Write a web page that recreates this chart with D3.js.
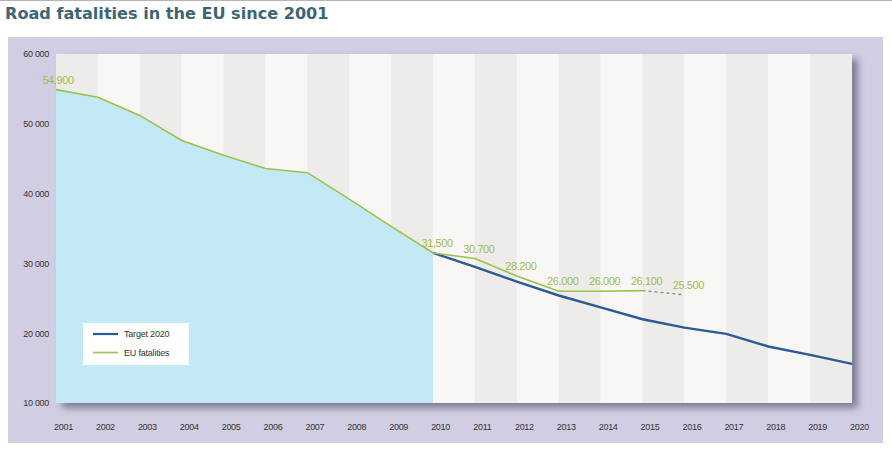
<!DOCTYPE html>
<html>
<head>
<meta charset="utf-8">
<script src="https://cdn.jsdelivr.net/npm/d3@7"></script>
<style>
  html, body { margin: 0; padding: 0; background: #ffffff; }
  svg { display: block; }
  .cond { font-family: "Liberation Sans Narrow", "Liberation Sans", Arial, sans-serif; }
</style>
</head>
<body>
<svg id="chart" width="892" height="453"></svg>
<script>
// ---- data ----
const title = "Road fatalities in the EU since 2001";
const years = [2001,2002,2003,2004,2005,2006,2007,2008,2009,2010,2011,2012,2013,2014,2015,2016,2017,2018,2019,2020];
const fatalityYears = [2001,2002,2003,2004,2005,2006,2007,2008,2009,2010,2011,2012,2013,2014,2015];
const fatalities    = [54900,53800,51200,47600,45500,43600,43000,39200,35300,31500,30700,28200,26000,26000,26100];
const estimateYears = [2015,2016];
const estimate      = [26100,25500];
const targetYears = [2010,2011,2012,2013,2014,2015,2016,2017,2018,2019,2020];
const target      = [31500,29500,27400,25400,23700,22000,20800,19900,18100,16900,15600];
const labelYears  = [2001,2010,2011,2012,2013,2014,2015,2016];
const labelValues = [54900,31500,30700,28200,26000,26000,26100,25500];
const labelTexts  = ["54,900","31,500","30.700","28.200","26.000","26.000","26.100","25.500"];
const yTicks = [10000,20000,30000,40000,50000,60000];
const yTickLabels = ["10 000","20 000","30 000","40 000","50 000","60 000"];
const legendNames = ["Target 2020","EU fatalities"];

// ---- layout ----
const svg = d3.select("#chart");
const W = 892, H = 453;
const plot = {x0: 56, x1: 852, y0: 54, y1: 403};
const x = d3.scaleLinear().domain([2001, 2020]).range([plot.x0, plot.x1]);
const y = d3.scaleLinear().domain([10000, 60000]).range([plot.y1, plot.y0]);

const colors = {
  panel: "#d1cee3", stripeA: "#edecea", stripeB: "#f9f7f6",
  area: "#c3e9f7", green: "#9cc24a", greenText: "#a3bd45",
  blue: "#2c5a98", title: "#3b6676", text: "#333333"
};

// top rule
svg.append("line").attr("x1", 0).attr("x2", W).attr("y1", 0.5).attr("y2", 0.5)
  .attr("stroke", "#b4b4b4").attr("stroke-width", 1);

// title
svg.append("text").attr("x", 5).attr("y", 19)
  .attr("font-family", "DejaVu Sans, Verdana, sans-serif").attr("font-weight", "bold")
  .attr("font-size", 16.1).attr("fill", colors.title).text(title);

// outer panel
svg.append("rect").attr("x", 8).attr("y", 37).attr("width", 875).attr("height", 406)
  .attr("fill", colors.panel);

// shadow filter
const defs = svg.append("defs");
const f = defs.append("filter").attr("id", "shadow").attr("x", "-5%").attr("y", "-5%").attr("width", "115%").attr("height", "120%");
f.append("feDropShadow").attr("dx", 6).attr("dy", 5).attr("stdDeviation", 3.5)
  .attr("flood-color", "#3a3a55").attr("flood-opacity", 0.55);

// plot background with shadow
svg.append("rect").attr("x", plot.x0).attr("y", plot.y0)
  .attr("width", plot.x1 - plot.x0).attr("height", plot.y1 - plot.y0)
  .attr("fill", colors.stripeB).attr("filter", "url(#shadow)");

// stripes
const cols = years.slice(0, -1);
svg.append("g").selectAll("rect").data(cols).join("rect")
  .attr("x", d => x(d)).attr("y", plot.y0)
  .attr("width", d => x(d + 1) - x(d)).attr("height", plot.y1 - plot.y0)
  .attr("fill", (d, i) => i % 2 === 0 ? colors.stripeA : colors.stripeB);

// area under fatalities up to 2010
const areaData = fatalityYears.map((yr, i) => ({yr, v: fatalities[i]})).filter(d => d.yr <= 2010);
svg.append("path").datum(areaData)
  .attr("d", d3.area().x(d => x(d.yr)).y0(plot.y1).y1(d => y(d.v)))
  .attr("fill", colors.area);

// target line
const line = d3.line().x(d => x(d.yr)).y(d => y(d.v));
svg.append("path").datum(targetYears.map((yr, i) => ({yr, v: target[i]})))
  .attr("d", line).attr("fill", "none").attr("stroke", colors.blue).attr("stroke-width", 2.4);

// fatalities line
svg.append("path").datum(fatalityYears.map((yr, i) => ({yr, v: fatalities[i]})))
  .attr("d", line).attr("fill", "none").attr("stroke", colors.green).attr("stroke-width", 1.6);
svg.append("path").datum(estimateYears.map((yr, i) => ({yr, v: estimate[i]})))
  .attr("d", line).attr("fill", "none").attr("stroke", "#8a9a70").attr("stroke-width", 1.4)
  .attr("stroke-dasharray", "3,3");

// data labels
svg.append("g").selectAll("text").data(labelYears).join("text")
  .attr("class", "cond")
  .attr("x", (d, i) => x(d) + (i === 0 ? 2 : 4)).attr("y", (d, i) => y(labelValues[i]) - 6)
  .attr("text-anchor", "middle").attr("font-size", 11).attr("fill", colors.greenText)
  .attr("letter-spacing", -0.4)
  .text((d, i) => labelTexts[i]);

// y axis
const yAxis = d3.axisLeft(y).tickValues(yTicks).tickSize(0).tickPadding(0)
  .tickFormat((d, i) => yTickLabels[i]);
const gy = svg.append("g").attr("transform", `translate(${plot.x0 - 7},0)`).call(yAxis);
gy.select(".domain").remove();
gy.selectAll("text").attr("class", "cond").attr("font-size", 9).attr("fill", colors.text)
  .attr("font-family", null).attr("letter-spacing", -0.3).attr("dy", "0.32em");

// x axis
const xAxis = d3.axisBottom(x).tickValues(years).tickSize(0).tickPadding(0)
  .tickFormat(d => String(d));
const gx = svg.append("g").attr("transform", `translate(7,${plot.y1 + 24})`).call(xAxis);
gx.select(".domain").remove();
gx.selectAll("text").attr("class", "cond").attr("font-size", 9).attr("fill", colors.text)
  .attr("font-family", null).attr("letter-spacing", -0.3).attr("dy", "0.32em");

// legend
const lg = svg.append("g").attr("transform", "translate(83,323)");
lg.append("rect").attr("width", 106).attr("height", 42).attr("fill", "#ffffff");
const legColors = [colors.blue, colors.green];
legendNames.forEach((n, i) => {
  const yy = 11 + i * 18.5;
  lg.append("line").attr("x1", 10).attr("x2", 35).attr("y1", yy).attr("y2", yy)
    .attr("stroke", legColors[i]).attr("stroke-width", i === 0 ? 2.2 : 1.6);
  lg.append("text").attr("class", "cond").attr("x", 41).attr("y", yy).attr("dy", "0.35em")
    .attr("font-size", 9).attr("letter-spacing", -0.2).attr("fill", colors.text).text(n);
});
</script>
</body>
</html>
